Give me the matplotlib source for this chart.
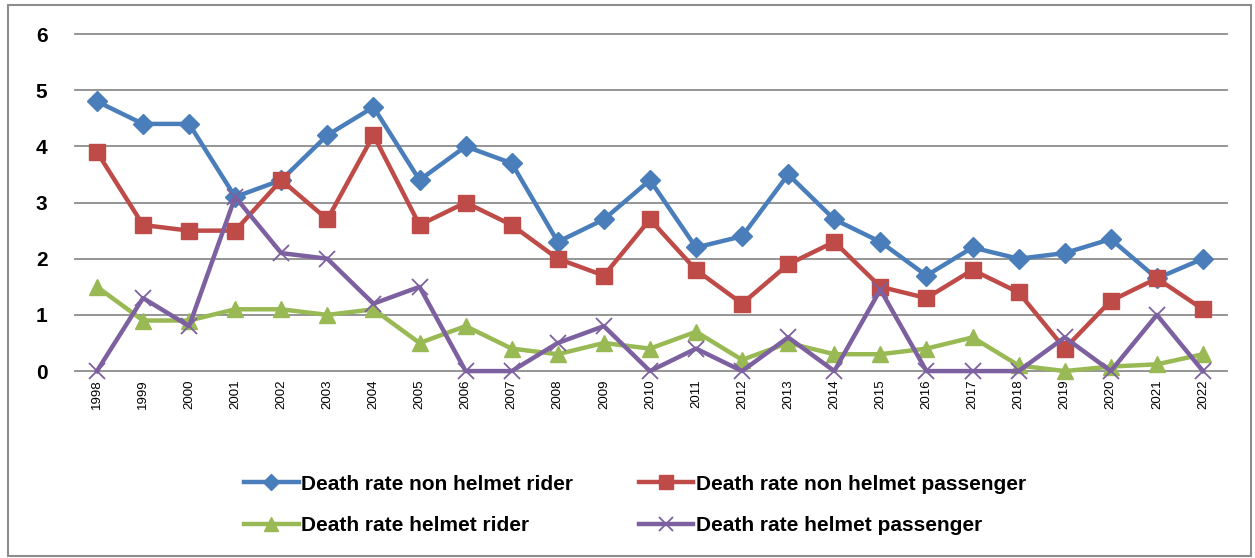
import matplotlib
matplotlib.use('Agg')
import matplotlib.pyplot as plt
from matplotlib.patches import Rectangle

plt.rcParams['font.family'] = ['Liberation Sans', 'DejaVu Sans']

years = [str(y) for y in range(1998, 2023)]

non_helmet_rider = [4.8, 4.4, 4.4, 3.1, 3.4, 4.2, 4.7, 3.4, 4.0, 3.7, 2.3, 2.7, 3.4,
                    2.2, 2.4, 3.5, 2.7, 2.3, 1.7, 2.2, 2.0, 2.1, 2.35, 1.65, 2.0]
non_helmet_passenger = [3.9, 2.6, 2.5, 2.5, 3.4, 2.7, 4.2, 2.6, 3.0, 2.6, 2.0, 1.7, 2.7,
                        1.8, 1.2, 1.9, 2.3, 1.5, 1.3, 1.8, 1.4, 0.4, 1.25, 1.65, 1.1]
helmet_rider = [1.5, 0.9, 0.9, 1.1, 1.1, 1.0, 1.1, 0.5, 0.8, 0.4, 0.3, 0.5, 0.4,
                0.7, 0.2, 0.5, 0.3, 0.3, 0.4, 0.6, 0.1, 0.0, 0.08, 0.12, 0.3]
helmet_passenger = [0.0, 1.3, 0.8, 3.1, 2.1, 2.0, 1.2, 1.5, 0.0, 0.0, 0.5, 0.8, 0.0,
                    0.4, 0.0, 0.6, 0.0, 1.45, 0.0, 0.0, 0.0, 0.6, 0.0, 1.0, 0.0]

series = [
    ('Death rate non helmet rider', non_helmet_rider, '#4a7ebb', 'D', 10),
    ('Death rate non helmet passenger', non_helmet_passenger, '#be4b48', 's', 12),
    ('Death rate helmet rider', helmet_rider, '#98b954', '^', 12),
    ('Death rate helmet passenger', helmet_passenger, '#7d60a0', 'x', 12),
]

fig = plt.figure(figsize=(12.55, 5.58), dpi=100)
ax = fig.add_axes([0.06, 0.335, 0.918, 0.604])

x = list(range(len(years)))
handles = []
for label, vals, col, mk, ms in series:
    if mk == 'x':
        h, = ax.plot(x, vals, color=col, lw=3.2, marker=mk, ms=ms, mew=1.3,
                     label=label, clip_on=False)
    else:
        h, = ax.plot(x, vals, color=col, lw=3.2, marker=mk, ms=ms, mec=col,
                     label=label, clip_on=False)
    handles.append(h)

ax.set_ylim(0, 6)
ax.set_xlim(-0.47, len(years) - 0.47)
ax.set_yticks(range(0, 7))
ax.set_xticks(x)
ax.set_xticklabels(years, rotation=90, fontsize=9.5)
for t in ax.get_yticklabels():
    t.set_fontweight('bold')
    t.set_fontsize(15)
ax.tick_params(axis='both', length=0, pad=20)
ax.tick_params(axis='x', pad=6)
ax.grid(axis='y', color='#8c8c8c', lw=1.3)
for gl in ax.get_ygridlines():
    gl.set_clip_on(False)
ax.set_axisbelow(True)
for s in ax.spines.values():
    s.set_visible(False)

# legend fills column-wise, reorder so rows read rider/passenger
order = [0, 2, 1, 3]
leg = fig.legend([handles[i] for i in order], [series[i][0] for i in order],
                 loc='center', bbox_to_anchor=(0.506, 0.095), ncol=2, frameon=False,
                 handlelength=2.6, columnspacing=3.2, labelspacing=1.1,
                 prop={'weight': 'bold', 'size': 15}, markerscale=0.8,
                 handletextpad=0.1)

fig.patches.append(Rectangle((8 / 1255, 2 / 558), 1243 / 1255, 551 / 558,
                             transform=fig.transFigure, fill=False,
                             edgecolor='#8c8c8c', lw=1.5))

fig.savefig('out.png', dpi=100)
